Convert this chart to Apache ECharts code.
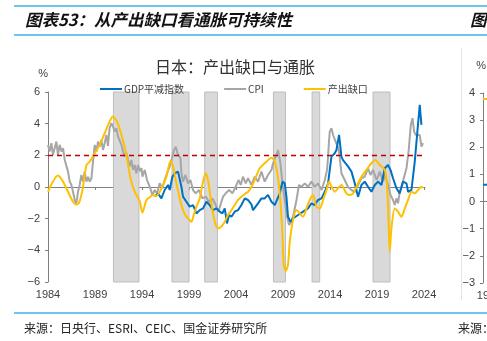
<!DOCTYPE html>
<html>
<head>
<meta charset="utf-8">
<script src="https://cdn.jsdelivr.net/npm/echarts@6/dist/echarts.min.js"></script>
<style>
  html, body { margin: 0; padding: 0; background: #ffffff; }
  #chart { width: 487px; height: 341px; }
</style>
</head>
<body>
<div id="chart"></div>
<script>
// Japan: CPI, GDP deflator and output gap (y/y %, output gap % of potential)
const cpiYear = [1984.00,1984.18,1984.36,1984.53,1984.71,1984.89,1985.06,1985.24,1985.43,1985.60,1985.78,1985.96,1986.13,1986.31,1986.49,1986.66,1986.84,1987.02,1987.19,1987.37,1987.55,1987.72,1987.90,1988.09,1988.26,1988.44,1988.62,1988.79,1988.97,1989.15,1989.32,1989.50,1989.68,1989.85,1990.03,1990.21,1990.38,1990.55,1990.74,1990.91,1991.10,1991.28,1991.45,1991.63,1991.81,1991.98,1992.16,1992.34,1992.51,1992.69,1992.87,1993.04,1993.22,1993.40,1993.57,1993.76,1993.94,1994.04,1994.29,1994.53,1994.82,1995.11,1995.35,1995.60,1995.88,1996.17,1996.41,1996.66,1996.95,1997.19,1997.40,1997.59,1997.77,1997.94,1998.09,1998.19,1998.36,1998.62,1998.89,1999.15,1999.43,1999.71,2000.06,2000.43,2000.78,2001.13,2001.49,2001.84,2002.13,2002.34,2002.62,2002.90,2003.26,2003.62,2003.97,2004.26,2004.50,2004.74,2005.03,2005.28,2005.64,2005.99,2006.34,2006.70,2007.05,2007.40,2007.77,2007.94,2008.30,2008.47,2008.72,2008.94,2009.18,2009.43,2009.64,2009.89,2010.14,2010.43,2010.70,2010.96,2011.31,2011.66,2012.02,2012.37,2012.72,2013.09,2013.44,2013.68,2013.79,2013.89,2013.97,2014.15,2014.32,2014.50,2014.68,2014.85,2014.96,2015.21,2015.56,2015.91,2016.28,2016.63,2016.98,2017.34,2017.69,2018.04,2018.30,2018.57,2018.94,2019.29,2019.64,2019.82,2020.17,2020.43,2020.70,2020.88,2021.06,2021.23,2021.41,2021.60,2021.84,2022.13,2022.37,2022.59,2022.77,2022.94,2023.12,2023.33,2023.54,2023.72,2023.89];
const cpiVal = [2.66,2.24,2.77,2.03,2.45,2.87,2.03,2.66,2.24,2.45,1.71,1.60,0.97,0.34,0.13,-0.30,-0.82,-1.03,-0.30,0.13,0.76,0.34,0.97,0.34,0.65,0.34,0.55,1.60,2.66,2.24,2.87,2.55,2.97,2.34,2.77,3.29,2.60,3.71,4.03,3.82,3.50,3.71,3.18,3.29,2.66,2.24,1.92,2.13,1.71,1.29,1.71,1.08,1.39,0.87,1.39,1.00,1.20,0.65,1.08,0.44,0.02,-0.50,-0.19,-0.40,0.23,-0.08,0.44,0.87,1.29,1.81,2.34,2.55,2.13,2.24,1.81,0.87,0.34,0.76,0.23,0.44,-0.19,-0.40,-0.19,-0.72,-0.61,-0.93,-0.72,-1.14,-1.56,-1.14,-0.61,-0.40,-0.19,-0.40,0.02,0.44,0.13,0.65,0.23,0.55,0.13,0.65,0.34,0.97,0.34,0.76,1.08,1.50,2.03,2.34,1.50,0.23,-0.82,-1.88,-2.40,-2.20,-1.67,-0.82,0.13,0.02,0.23,0.02,0.34,0.02,0.23,-0.19,0.44,1.08,1.92,2.90,3.50,3.71,3.30,3.00,2.90,2.50,2.20,0.87,0.44,0.00,-0.19,-0.30,0.13,0.55,0.65,1.18,0.76,1.08,0.44,0.97,0.34,0.76,0.13,-0.50,-0.82,-1.14,-0.72,-1.03,-0.30,0.02,0.55,1.18,2.34,3.92,4.35,3.50,3.29,3.18,3.29,2.55,2.77];

const deflYear = [1995.35,1995.70,1996.06,1996.41,1996.77,1996.95,1997.23,1997.48,1997.83,1998.01,1998.19,1998.36,1998.72,1999.07,1999.43,1999.79,2000.14,2000.49,2000.85,2001.20,2001.55,2001.91,2002.27,2002.55,2002.80,2003.04,2003.26,2003.51,2003.86,2004.21,2004.57,2004.93,2005.28,2005.64,2005.81,2006.34,2006.70,2007.05,2007.40,2007.77,2008.12,2008.30,2008.65,2008.94,2009.18,2009.36,2009.53,2009.79,2010.06,2010.60,2011.13,2011.66,2012.02,2012.37,2012.72,2013.09,2013.44,2013.79,2013.97,2014.15,2014.50,2014.68,2014.96,2015.21,2015.38,2015.56,2015.91,2016.28,2016.63,2016.98,2017.34,2017.69,2018.04,2018.40,2018.76,2019.11,2019.47,2019.82,2020.17,2020.43,2020.70,2021.06,2021.41,2021.77,2022.13,2022.30,2022.66,2023.01,2023.26,2023.54,2023.72];
const deflVal = [-0.61,-0.40,-0.72,-0.19,0.13,-0.19,0.65,0.87,0.97,0.87,0.02,-0.61,-0.93,-1.24,-1.14,-1.67,-1.46,-1.35,-0.93,-1.14,-1.46,-1.35,-1.56,-1.67,-1.35,-2.30,-1.77,-1.88,-1.56,-1.46,-1.14,-0.72,-0.82,-1.10,-1.46,-1.03,-0.72,-0.72,-0.50,-0.93,-1.14,-1.14,-0.40,0.34,0.23,-0.61,-1.88,-2.20,-1.98,-1.77,-1.56,-1.35,-1.03,-1.14,-0.82,-0.72,-0.30,0.23,1.08,1.92,2.13,2.34,3.29,1.92,1.70,1.80,1.30,0.97,0.23,-0.61,0.13,0.34,0.02,-0.30,0.13,0.34,0.13,1.18,1.39,1.08,0.55,-0.08,-0.40,0.34,0.23,-0.30,-0.19,1.60,3.29,5.19,3.92];

const gapYear = [1984.00,1985.06,1985.60,1986.13,1986.66,1987.02,1987.30,1987.66,1988.09,1988.44,1988.97,1989.50,1990.03,1990.55,1990.91,1991.34,1991.81,1992.34,1992.77,1993.22,1993.76,1994.04,1994.47,1994.82,1995.17,1995.53,1995.88,1996.23,1996.60,1996.87,1997.05,1997.30,1997.66,1998.01,1998.36,1998.72,1999.07,1999.26,1999.50,1999.79,2000.14,2000.49,2000.78,2001.02,2001.28,2001.55,2001.84,2002.09,2002.45,2002.80,2003.15,2003.51,2003.86,2004.21,2004.57,2004.93,2005.28,2005.64,2005.99,2006.52,2007.23,2007.77,2008.12,2008.47,2008.72,2008.94,2009.07,2009.29,2009.53,2009.71,2010.06,2010.43,2010.78,2011.13,2011.49,2011.84,2012.19,2012.55,2012.90,2013.26,2013.62,2013.89,2014.15,2014.50,2014.85,2015.21,2015.74,2016.10,2016.45,2016.81,2017.34,2017.87,2018.40,2018.83,2019.29,2019.82,2020.06,2020.21,2020.35,2020.53,2020.88,2021.23,2021.60,2021.95,2022.30,2022.66,2023.01,2023.36,2023.72,2023.89];
const gapVal = [-0.30,0.72,0.34,-0.30,-0.93,-1.10,-1.00,-0.20,1.39,1.60,2.13,2.66,3.40,4.13,4.45,4.13,3.30,2.03,0.55,-0.30,-0.90,-1.62,-0.82,-0.65,-0.50,-0.57,-0.30,0.13,0.65,1.39,1.65,1.29,0.23,-0.72,-1.46,-1.88,-2.09,-2.20,-1.77,-1.24,-0.72,0.34,0.87,0.44,-0.61,-1.67,-2.40,-2.60,-2.50,-2.20,-1.77,-1.46,-1.14,-0.82,-0.61,-0.44,-0.30,0.00,0.44,1.18,1.60,1.85,1.60,0.55,-0.93,-3.04,-4.94,-5.30,-4.90,-3.50,-2.09,-1.46,-1.67,-1.88,-1.35,-0.82,-0.50,-1.24,-1.35,-0.82,-0.19,0.34,0.02,-0.30,-0.08,0.13,-0.40,-0.50,-0.40,0.02,0.65,1.08,1.50,1.71,1.39,1.08,0.13,-1.98,-4.10,-2.60,-1.35,-1.56,-1.88,-1.35,-0.82,-0.30,-0.40,-0.19,0.02,-0.08];

// Recession periods (shaded)
const recStart = [1990.96, 1997.19, 2000.67, 2007.98, 2012.09, 2018.57];
const recEnd   = [1993.68, 1999.00, 2002.02, 2009.26, 2012.90, 2020.38];

const yearTicks = [1984, 1989, 1994, 1999, 2004, 2009, 2014, 2019, 2024];
const inflationTarget = 2;

// Neighbouring panel (only its left edge is visible)
const sideYear = [1994.5, 1997];
const sideGap = [3.78, 3.78];
const sideDefl = [0.62, 0.62];
const sideTicks = [1995, 2000, 2005, 2010];

const names = { defl: 'GDP平减指数', cpi: 'CPI', gap: '产出缺口' };

const pairs = (xs, ys) => xs.map((x, i) => [x, ys[i]]);
const minus = v => String(v).replace('-', '\u2212');

const FONT = "'Liberation Sans', 'Noto Sans CJK SC', sans-serif";
const CJK = "'Noto Sans CJK SC', 'Liberation Sans', sans-serif";
const axisGray = '#808080';
const labelColor = '#404040';

const chart = echarts.init(document.getElementById('chart'), null, { renderer: 'canvas' });

chart.setOption({
  animation: false,
  backgroundColor: '#ffffff',
  textStyle: { fontFamily: FONT },
  title: [
    { text: '图表53：从产出缺口看通胀可持续性', left: 25, top: 11, padding: 0,
      textStyle: { fontFamily: CJK, fontSize: 16.5, fontWeight: 'bold', fontStyle: 'italic', color: '#111111' } },
    { text: '图', left: 470, top: 11, padding: 0,
      textStyle: { fontFamily: CJK, fontSize: 16.5, fontWeight: 'bold', fontStyle: 'italic', color: '#111111' } },
    { text: '日本：产出缺口与通胀', left: 155, top: 59, padding: 0,
      textStyle: { fontFamily: CJK, fontSize: 16, fontWeight: 'normal', color: '#333333' } },
    { text: '来源：日央行、ESRI、CEIC、国金证券研究所', left: 24, top: 322, padding: 0,
      textStyle: { fontFamily: CJK, fontSize: 12, fontWeight: 'normal', color: '#222222' } },
    { text: '来源：', left: 458, top: 322, padding: 0,
      textStyle: { fontFamily: CJK, fontSize: 12, fontWeight: 'normal', color: '#222222' } }
  ],
  graphic: [
    { type: 'line', shape: { x1: 14, y1: 6, x2: 487, y2: 6 }, style: { stroke: '#3fb2e6', lineWidth: 1.5 }, silent: true },
    { type: 'line', shape: { x1: 14, y1: 35, x2: 487, y2: 35 }, style: { stroke: '#3fb2e6', lineWidth: 1.5 }, silent: true },
    { type: 'line', shape: { x1: 14, y1: 313, x2: 487, y2: 313 }, style: { stroke: '#3fb2e6', lineWidth: 1.5 }, silent: true },
    { type: 'line', shape: { x1: 461.5, y1: 48, x2: 461.5, y2: 300 }, style: { stroke: '#e3e3e3', lineWidth: 1 }, silent: true }
  ],
  legend: {
    data: [names.defl, names.cpi, names.gap],
    left: 100, top: 84,
    icon: 'rect',
    itemWidth: 22, itemHeight: 2, itemGap: 40,
    padding: 0,
    textStyle: { fontFamily: CJK, fontSize: 10, color: labelColor, padding: [0, 0, 0, -3] }
  },
  grid: [
    { left: 48, top: 92, width: 377, height: 190, containLabel: false, outerBoundsMode: 'none' },
    { left: 483, top: 93, width: 360, height: 190, containLabel: false, outerBoundsMode: 'none' }
  ],
  xAxis: [
    { // zero line with year ticks
      gridIndex: 0, type: 'value', min: 1984, max: 2024.1,
      axisLine: { show: true, onZero: true, lineStyle: { color: axisGray, width: 1 } },
      axisTick: { show: true, customValues: yearTicks, length: 3, lineStyle: { color: axisGray } },
      axisLabel: { show: false },
      splitLine: { show: false }
    },
    { // year labels along the bottom
      gridIndex: 0, type: 'value', min: 1984, max: 2024.1, position: 'bottom',
      axisLine: { show: false, onZero: false },
      axisTick: { show: false },
      axisLabel: { customValues: yearTicks, formatter: v => String(v), margin: 7,
                   fontSize: 11, color: labelColor, fontFamily: FONT },
      splitLine: { show: false }
    },
    { // neighbouring panel
      gridIndex: 1, type: 'value', min: 1994.5, max: 2024,
      axisLine: { show: true, onZero: true, lineStyle: { color: axisGray } },
      axisTick: { show: false },
      axisLabel: { show: false },
      splitLine: { show: false }
    },
    {
      gridIndex: 1, type: 'value', min: 1994.5, max: 2024, position: 'bottom',
      axisLine: { show: false, onZero: false },
      axisTick: { show: false },
      axisLabel: { customValues: sideTicks, formatter: v => String(v), margin: 7,
                   fontSize: 11, color: labelColor, fontFamily: FONT, hideOverlap: false },
      splitLine: { show: false }
    }
  ],
  yAxis: [
    {
      gridIndex: 0, type: 'value', min: -6, max: 6, interval: 2,
      name: '%', nameLocation: 'end', nameGap: 13,
      nameTextStyle: { fontSize: 11, color: labelColor, align: 'right', fontFamily: FONT },
      axisLine: { show: true, lineStyle: { color: axisGray } },
      axisTick: { show: true, length: 3, lineStyle: { color: axisGray } },
      axisLabel: { formatter: minus, fontSize: 11, color: labelColor, margin: 8 },
      splitLine: { show: false }
    },
    {
      gridIndex: 1, type: 'value', min: -3, max: 4, interval: 1,
      name: '%', nameLocation: 'end', nameGap: 22,
      nameTextStyle: { fontSize: 11, color: labelColor, align: 'right', fontFamily: FONT, padding: [0, -3, 0, 0] },
      axisLine: { show: true, lineStyle: { color: axisGray } },
      axisTick: { show: true, length: 3, lineStyle: { color: axisGray } },
      axisLabel: { formatter: minus, fontSize: 11, color: labelColor, margin: 8 },
      splitLine: { show: false }
    }
  ],
  series: [
    {
      name: names.cpi, type: 'line', xAxisIndex: 0, yAxisIndex: 0, z: 2,
      data: pairs(cpiYear, cpiVal), showSymbol: false, symbol: 'none',
      lineStyle: { color: '#a6a6a6', width: 2 }, itemStyle: { color: '#a6a6a6' },
      markArea: {
        silent: true,
        itemStyle: { color: '#d9d9d9', borderColor: '#bdbdbd', borderWidth: 1 },
        data: recStart.map((s, i) => [{ xAxis: s }, { xAxis: recEnd[i] }])
      }
    },
    {
      name: names.defl, type: 'line', xAxisIndex: 0, yAxisIndex: 0, z: 3,
      data: pairs(deflYear, deflVal), showSymbol: false, symbol: 'none',
      lineStyle: { color: '#0070c0', width: 2 }, itemStyle: { color: '#0070c0' }
    },
    {
      name: names.gap, type: 'line', xAxisIndex: 0, yAxisIndex: 0, z: 4,
      data: pairs(gapYear, gapVal), showSymbol: false, symbol: 'none', smooth: 0.25,
      lineStyle: { color: '#ffc000', width: 2 }, itemStyle: { color: '#ffc000' },
      markLine: {
        silent: true, symbol: 'none', label: { show: false },
        lineStyle: { color: '#c00000', type: [5, 4], width: 1.3 },
        data: [{ yAxis: inflationTarget }]
      }
    },
    {
      name: 'side-gap', type: 'line', xAxisIndex: 2, yAxisIndex: 1, z: 4,
      data: pairs(sideYear, sideGap), showSymbol: false, symbol: 'none',
      lineStyle: { color: '#ffc000', width: 2 }
    },
    {
      name: 'side-defl', type: 'line', xAxisIndex: 2, yAxisIndex: 1, z: 4,
      data: pairs(sideYear, sideDefl), showSymbol: false, symbol: 'none',
      lineStyle: { color: '#0070c0', width: 2 }
    }
  ]
});
</script>
</body>
</html>
